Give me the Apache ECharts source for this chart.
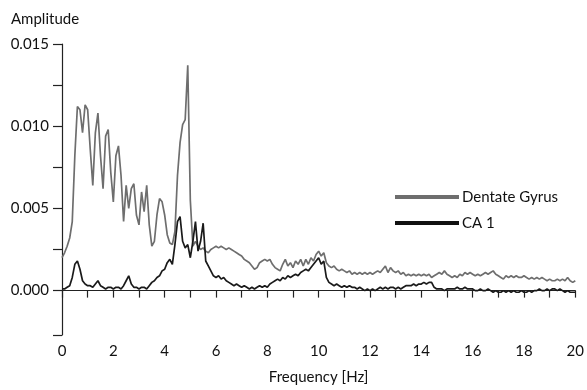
<!DOCTYPE html>
<html><head><meta charset="utf-8">
<script src="https://cdn.jsdelivr.net/npm/echarts@6/dist/echarts.min.js"></script>
<style>html,body{margin:0;padding:0;background:#fff}#c{width:587px;height:390px}</style>
</head><body><div id="c"></div>
<script>
const freq = [
0.0,0.1,0.2,0.3,0.4,0.5,0.6,0.7,0.8,0.9,
1.0,1.1,1.2,1.3,1.4,1.5,1.6,1.7,1.8,1.9,
2.0,2.1,2.2,2.3,2.4,2.5,2.6,2.7,2.8,2.9,
3.0,3.1,3.2,3.3,3.4,3.5,3.6,3.7,3.8,3.9,
4.0,4.1,4.2,4.3,4.4,4.5,4.6,4.7,4.8,4.9,
5.0,5.1,5.2,5.3,5.4,5.5,5.6,5.7,5.8,5.9,
6.0,6.1,6.2,6.3,6.4,6.5,6.6,6.7,6.8,6.9,
7.0,7.1,7.2,7.3,7.4,7.5,7.6,7.7,7.8,7.9,
8.0,8.1,8.2,8.3,8.4,8.5,8.6,8.7,8.8,8.9,
9.0,9.1,9.2,9.3,9.4,9.5,9.6,9.7,9.8,9.9,
10.0,10.1,10.2,10.3,10.4,10.5,10.6,10.7,10.8,10.9,
11.0,11.1,11.2,11.3,11.4,11.5,11.6,11.7,11.8,11.9,
12.0,12.1,12.2,12.3,12.4,12.5,12.6,12.7,12.8,12.9,
13.0,13.1,13.2,13.3,13.4,13.5,13.6,13.7,13.8,13.9,
14.0,14.1,14.2,14.3,14.4,14.5,14.6,14.7,14.8,14.9,
15.0,15.1,15.2,15.3,15.4,15.5,15.6,15.7,15.8,15.9,
16.0,16.1,16.2,16.3,16.4,16.5,16.6,16.7,16.8,16.9,
17.0,17.1,17.2,17.3,17.4,17.5,17.6,17.7,17.8,17.9,
18.0,18.1,18.2,18.3,18.4,18.5,18.6,18.7,18.8,18.9,
19.0,19.1,19.2,19.3,19.4,19.5,19.6,19.7,19.8,19.9,
20.0
];
const dentateGyrus = [
0.0020,0.0023,0.0027,0.0032,0.0042,0.0082,0.0112,0.0110,0.0096,0.0113,
0.0110,0.0086,0.0064,0.0096,0.0108,0.0082,0.0062,0.0094,0.0098,0.0072,
0.0054,0.0082,0.0088,0.0070,0.0042,0.0064,0.0050,0.0062,0.0065,0.0046,
0.0040,0.0060,0.0048,0.0064,0.0040,0.0027,0.0030,0.0046,0.0056,0.0054,
0.0046,0.0034,0.0029,0.0028,0.0036,0.0070,0.0090,0.0101,0.0104,0.0137,
0.0055,0.0027,0.0030,0.0027,0.0025,0.0026,0.0024,0.0023,0.0025,0.0026,
0.0027,0.0026,0.0027,0.0026,0.0025,0.0026,0.0025,0.0024,0.0023,0.0022,
0.0021,0.0019,0.0018,0.0017,0.0015,0.0013,0.0014,0.0017,0.0018,0.0019,
0.0018,0.0019,0.0016,0.0014,0.0013,0.0012,0.0016,0.0019,0.0015,0.0017,
0.0014,0.0018,0.0016,0.0019,0.0015,0.0019,0.0016,0.0020,0.0018,0.0022,
0.0024,0.0021,0.0023,0.0017,0.0015,0.0014,0.0015,0.0013,0.0012,0.0013,
0.0012,0.0011,0.0012,0.0010,0.0011,0.0010,0.0011,0.0010,0.0011,0.0010,
0.0011,0.0010,0.0011,0.0012,0.0011,0.0013,0.0015,0.0011,0.0014,0.0012,
0.0011,0.0012,0.0010,0.0011,0.0009,0.0010,0.0009,0.0010,0.0009,0.0010,
0.0009,0.0010,0.0009,0.0010,0.0008,0.0009,0.0010,0.0011,0.0010,0.0012,
0.0010,0.0009,0.0008,0.0009,0.0008,0.0010,0.0009,0.0011,0.0010,0.0011,
0.0010,0.0009,0.0010,0.0009,0.0010,0.0011,0.0010,0.0011,0.0012,0.0010,
0.0009,0.0008,0.0007,0.0009,0.0008,0.0009,0.0008,0.0009,0.0008,0.0008,
0.0009,0.0008,0.0007,0.0008,0.0007,0.0008,0.0007,0.0008,0.0007,0.0006,
0.0007,0.0006,0.0006,0.0007,0.0006,0.0007,0.0006,0.0008,0.0006,0.0005,
0.0006
];
const ca1 = [
0.0001,0.0001,0.0002,0.0003,0.0008,0.0016,0.0018,0.0013,0.0006,0.0004,
0.0003,0.0003,0.0002,0.0004,0.0006,0.0003,0.0002,0.0001,0.0002,0.0002,
0.0001,0.0002,0.0002,0.0001,0.0003,0.0006,0.0009,0.0004,0.0002,0.0002,
0.0001,0.0002,0.0002,0.0001,0.0003,0.0005,0.0006,0.0008,0.0009,0.0012,
0.0013,0.0017,0.0019,0.0016,0.0028,0.0042,0.0045,0.0030,0.0026,0.0028,
0.0020,0.0030,0.0042,0.0024,0.0030,0.0041,0.0018,0.0015,0.0012,0.0009,
0.0008,0.0009,0.0007,0.0008,0.0006,0.0005,0.0004,0.0003,0.0004,0.0003,
0.0002,0.0003,0.0002,0.0001,0.0002,0.0001,0.0002,0.0003,0.0002,0.0003,
0.0002,0.0004,0.0005,0.0006,0.0007,0.0006,0.0008,0.0007,0.0009,0.0008,
0.0009,0.0010,0.0009,0.0011,0.0012,0.0013,0.0012,0.0014,0.0016,0.0018,
0.0020,0.0016,0.0018,0.0008,0.0005,0.0004,0.0003,0.0004,0.0003,0.0002,
0.0003,0.0002,0.0003,0.0002,0.0002,0.0001,0.0002,0.0001,0.0000,0.0001,
0.0000,0.0001,0.0000,0.0001,0.0002,0.0001,0.0002,0.0001,0.0002,0.0002,
0.0001,0.0002,0.0001,0.0002,0.0003,0.0003,0.0003,0.0004,0.0003,0.0004,
0.0004,0.0005,0.0004,0.0005,0.0005,0.0002,0.0001,0.0001,0.0001,0.0000,
0.0001,0.0001,0.0001,0.0001,0.0002,0.0001,0.0001,0.0002,0.0001,0.0001,
0.0001,0.0000,0.0000,0.0001,0.0000,0.0000,0.0001,0.0000,-0.0001,0.0000,
-0.0001,-0.0001,0.0000,-0.0001,0.0000,-0.0001,0.0000,-0.0001,-0.0001,0.0000,
-0.0001,-0.0001,0.0000,-0.0001,0.0000,0.0000,0.0001,0.0000,0.0000,0.0001,
0.0000,0.0001,0.0001,0.0000,0.0001,0.0000,-0.0001,0.0000,-0.0001,-0.0001,
-0.0001
];
const yLabelValues = [0, 0.005, 0.010, 0.015];
const yTickValues = [-0.0027, 0, 0.0025, 0.005, 0.0075, 0.010, 0.0125, 0.015];
const seriesNames = ['Dentate Gyrus', 'CA 1'];

const FONT = 'Lato';
const chart = echarts.init(document.getElementById('c'), null, {renderer: 'canvas'});
const pairs = (vals) => freq.map((f, i) => [f, vals[i]]);
chart.setOption({
  animation: false,
  backgroundColor: '#fff',
  grid: {left: 62, right: 10, top: 44, bottom: 52},
  graphic: [{
    type: 'text', left: 11, top: 12,
    style: {text: 'Amplitude', font: '15px ' + FONT, fill: '#111'}
  }],
  legend: {
    orient: 'vertical', left: 390, top: 184,
    itemWidth: 64, itemHeight: 4, itemGap: 10, icon: 'rect',
    textStyle: {fontFamily: FONT, fontSize: 15, color: '#111', lineHeight: 16, padding: [0,0,0,-2]},
    data: seriesNames
  },
  xAxis: {
    type: 'value', min: 0, max: 20, interval: 1,
    name: 'Frequency [Hz]', nameLocation: 'middle', nameGap: 35,
    nameTextStyle: {fontFamily: FONT, fontSize: 15, color: '#111'},
    axisLine: {lineStyle: {color: '#222', width: 1.2}},
    axisTick: {length: 7, lineStyle: {color: '#222', width: 1.2}},
    axisLabel: {fontFamily: FONT, fontSize: 15, color: '#111', margin: 9,
      formatter: v => (Math.round(v) % 2 === 0 ? String(Math.round(v)) : '')},
    splitLine: {show: false}
  },
  yAxis: {
    type: 'value', min: -0.0027, max: 0.015,
    axisLine: {show: true, lineStyle: {color: '#222', width: 1.2}},
    axisTick: {show: true, length: 9, customValues: yTickValues, lineStyle: {color: '#222', width: 1.2}},
    axisLabel: {fontFamily: FONT, fontSize: 15, color: '#111', margin: 13,
      customValues: yLabelValues, formatter: v => v.toFixed(3)},
    splitLine: {show: false}
  },
  series: [
    {name: seriesNames[0], type: 'line', data: pairs(dentateGyrus), symbol: 'none',
     color: '#6e6e6e', lineStyle: {color: '#6e6e6e', width: 1.7}, z: 2},
    {name: seriesNames[1], type: 'line', data: pairs(ca1), symbol: 'none',
     color: '#111', lineStyle: {color: '#1a1a1a', width: 1.7}, z: 3}
  ]
});
</script></body></html>
